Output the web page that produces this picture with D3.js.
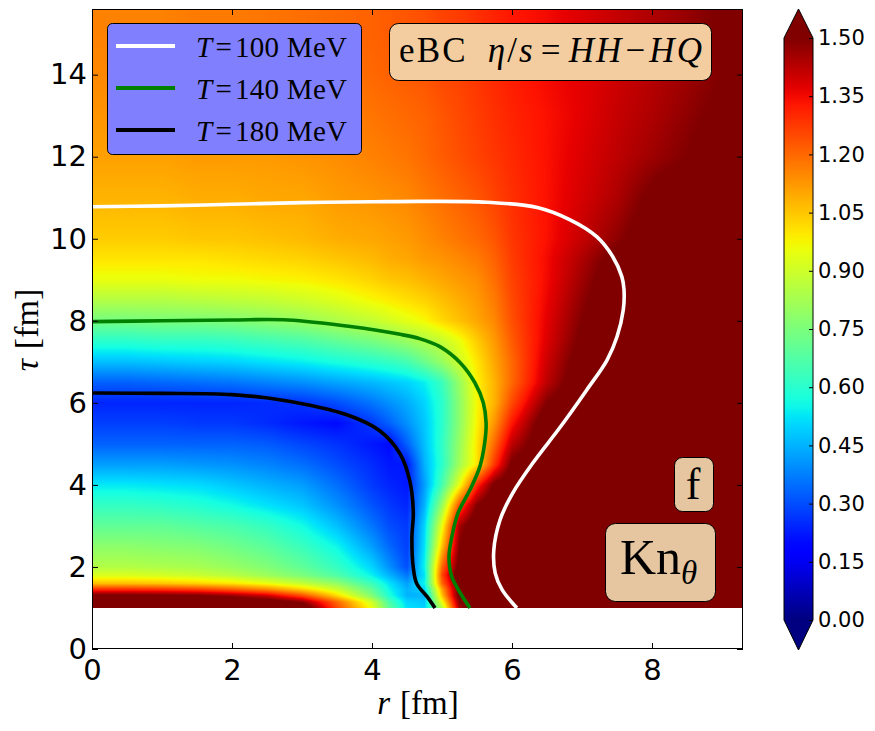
<!DOCTYPE html>
<html><head><meta charset="utf-8">
<script src="https://cdn.jsdelivr.net/npm/d3@7"></script>
<style>body{margin:0;background:#fff} svg{display:block}</style>
</head><body>
<svg id="chart" width="875" height="731" xmlns="http://www.w3.org/2000/svg"></svg>
<script>
// ---------------- DATA ----------------
const rGrid   = [0, 0.5, 1, 1.5, 2, 2.5, 3, 3.5, 4, 4.25, 4.5, 4.75, 5, 5.25, 5.5, 5.75, 6, 6.5, 7, 7.5, 8, 8.5, 9, 9.3];
const tauGrid = [1, 1.15, 1.3, 1.45, 1.6, 1.8, 2, 2.5, 3, 3.5, 4, 4.5, 5, 5.5, 6, 6.5, 7, 7.5, 8, 8.5, 9, 9.5, 10, 11, 12, 13, 14, 15, 15.6];
// Kn_theta values, one row per tau (rows follow tauGrid, columns follow rGrid)
const knRows = [
 [1.6,1.6,1.6,1.6,1.6,1.6,1.6,1.25,0.95,0.7,0.52,0.5,0.85,1.45,1.6,1.6,1.6,1.6,1.6,1.6,1.6,1.6,1.6,1.6],
 [1.6,1.6,1.6,1.6,1.6,1.58,1.48,1.2,0.9,0.66,0.5,0.48,0.95,1.5,1.6,1.6,1.6,1.6,1.6,1.6,1.6,1.6,1.6,1.6],
 [1.53,1.53,1.52,1.51,1.47,1.4,1.25,1.02,0.76,0.58,0.45,0.45,1.05,1.55,1.6,1.6,1.6,1.6,1.6,1.6,1.6,1.6,1.6,1.6],
 [1.3,1.3,1.29,1.27,1.22,1.15,1.04,0.9,0.7,0.55,0.45,0.5,1.1,1.55,1.6,1.6,1.6,1.6,1.6,1.6,1.6,1.6,1.6,1.6],
 [1.06,1.06,1.05,1.03,1.0,0.95,0.88,0.79,0.63,0.52,0.42,0.55,1.2,1.55,1.6,1.6,1.6,1.6,1.6,1.6,1.6,1.6,1.6,1.6],
 [0.92,0.92,0.91,0.89,0.86,0.81,0.75,0.67,0.54,0.45,0.36,0.52,1.25,1.6,1.6,1.6,1.6,1.6,1.6,1.6,1.6,1.6,1.6,1.6],
 [0.85,0.85,0.84,0.83,0.8,0.76,0.7,0.62,0.5,0.4,0.3,0.55,1.2,1.55,1.6,1.6,1.6,1.6,1.6,1.6,1.6,1.6,1.6,1.6],
 [0.78,0.78,0.77,0.76,0.73,0.69,0.63,0.55,0.42,0.34,0.28,0.52,1.05,1.5,1.6,1.6,1.6,1.6,1.6,1.6,1.6,1.6,1.6,1.6],
 [0.7,0.7,0.7,0.68,0.66,0.62,0.56,0.47,0.36,0.3,0.27,0.5,0.95,1.45,1.6,1.6,1.6,1.6,1.6,1.6,1.6,1.6,1.6,1.6],
 [0.62,0.62,0.61,0.59,0.56,0.52,0.48,0.4,0.31,0.27,0.24,0.45,0.8,1.25,1.5,1.6,1.6,1.6,1.6,1.6,1.6,1.6,1.6,1.6],
 [0.53,0.53,0.52,0.51,0.48,0.45,0.42,0.35,0.27,0.24,0.22,0.42,0.65,0.95,1.3,1.52,1.6,1.6,1.6,1.6,1.6,1.6,1.6,1.6],
 [0.42,0.42,0.42,0.41,0.4,0.38,0.35,0.3,0.25,0.22,0.22,0.45,0.6,0.82,1.0,1.28,1.52,1.6,1.6,1.6,1.6,1.6,1.6,1.6],
 [0.33,0.33,0.33,0.33,0.33,0.32,0.29,0.26,0.22,0.2,0.33,0.47,0.61,0.8,1.0,1.2,1.42,1.6,1.6,1.6,1.6,1.6,1.6,1.6],
 [0.28,0.28,0.28,0.27,0.27,0.25,0.22,0.2,0.27,0.33,0.4,0.48,0.6,0.78,0.98,1.13,1.33,1.58,1.6,1.6,1.6,1.6,1.6,1.6],
 [0.24,0.24,0.24,0.24,0.24,0.25,0.26,0.3,0.36,0.4,0.44,0.5,0.6,0.78,0.97,1.08,1.25,1.5,1.6,1.6,1.6,1.6,1.6,1.6],
 [0.33,0.33,0.34,0.35,0.36,0.38,0.4,0.43,0.46,0.48,0.5,0.54,0.63,0.8,0.98,1.08,1.2,1.42,1.58,1.6,1.6,1.6,1.6,1.6],
 [0.47,0.47,0.48,0.49,0.5,0.52,0.54,0.57,0.6,0.62,0.65,0.72,0.8,0.9,1.0,1.1,1.2,1.4,1.55,1.6,1.6,1.6,1.6,1.6],
 [0.6,0.6,0.61,0.61,0.62,0.64,0.66,0.7,0.74,0.77,0.8,0.84,0.88,0.95,1.04,1.12,1.22,1.38,1.52,1.6,1.6,1.6,1.6,1.6],
 [0.74,0.74,0.75,0.75,0.76,0.78,0.8,0.84,0.88,0.91,0.94,0.97,1.02,1.06,1.1,1.15,1.24,1.37,1.5,1.6,1.6,1.6,1.6,1.6],
 [0.85,0.85,0.85,0.86,0.87,0.88,0.9,0.93,0.97,0.99,1.01,1.03,1.06,1.09,1.12,1.17,1.25,1.36,1.48,1.58,1.6,1.6,1.6,1.6],
 [0.95,0.95,0.95,0.96,0.96,0.97,0.98,1.0,1.03,1.05,1.06,1.08,1.1,1.12,1.14,1.19,1.26,1.35,1.46,1.57,1.6,1.6,1.6,1.6],
 [1.0,1.0,1.0,1.0,1.01,1.02,1.03,1.05,1.07,1.09,1.1,1.12,1.13,1.15,1.17,1.21,1.27,1.35,1.44,1.54,1.6,1.6,1.6,1.6],
 [1.04,1.04,1.04,1.05,1.05,1.06,1.07,1.09,1.1,1.11,1.12,1.14,1.16,1.18,1.2,1.23,1.28,1.34,1.41,1.48,1.56,1.6,1.6,1.6],
 [1.08,1.08,1.08,1.09,1.09,1.1,1.1,1.12,1.13,1.14,1.15,1.17,1.19,1.21,1.23,1.26,1.29,1.34,1.39,1.44,1.52,1.58,1.6,1.6],
 [1.11,1.11,1.11,1.12,1.12,1.12,1.13,1.14,1.16,1.17,1.18,1.2,1.22,1.24,1.26,1.28,1.3,1.34,1.38,1.42,1.46,1.5,1.55,1.58],
 [1.13,1.13,1.13,1.14,1.14,1.14,1.15,1.16,1.18,1.19,1.2,1.21,1.23,1.25,1.27,1.29,1.31,1.34,1.37,1.41,1.44,1.48,1.52,1.55],
 [1.15,1.15,1.15,1.16,1.16,1.16,1.17,1.18,1.2,1.21,1.22,1.23,1.25,1.26,1.28,1.3,1.32,1.35,1.37,1.4,1.43,1.46,1.5,1.54],
 [1.16,1.16,1.16,1.17,1.17,1.18,1.19,1.2,1.21,1.22,1.23,1.24,1.26,1.27,1.29,1.31,1.33,1.35,1.38,1.41,1.44,1.47,1.51,1.55],
 [1.16,1.16,1.16,1.17,1.17,1.18,1.19,1.2,1.21,1.22,1.23,1.24,1.26,1.27,1.29,1.31,1.33,1.35,1.38,1.41,1.44,1.47,1.51,1.55]
];
// isotherms [r, tau]
const isoT100 = [[0,10.78],[1,10.8],[2,10.84],[3,10.88],[4,10.9],[4.69,10.91],[5.64,10.89],[6.36,10.76],[6.83,10.46],[7.21,10.05],[7.44,9.56],[7.57,9.07],[7.6,8.76],[7.59,8.27],[7.5,7.61],[7.36,7.05],[7.07,6.32],[6.69,5.41],[6.3,4.54],[6.01,3.8],[5.83,3.15],[5.74,2.41],[5.76,1.85],[5.86,1.44],[6.07,1.0]];
const isoT140 = [[0,7.98],[1,8.0],[2,8.02],[2.8,8.02],[3.69,7.86],[4.4,7.67],[4.69,7.56],[4.97,7.37],[5.26,6.98],[5.47,6.49],[5.59,6.0],[5.63,5.51],[5.61,5.02],[5.54,4.44],[5.4,3.88],[5.23,3.32],[5.14,2.73],[5.1,2.24],[5.14,1.76],[5.26,1.37],[5.4,1.0]];
const isoT180 = [[0,6.24],[1,6.23],[2,6.2],[2.7,6.07],[3.64,5.71],[4.11,5.32],[4.4,4.76],[4.54,4.1],[4.59,3.32],[4.57,2.73],[4.59,1.98],[4.64,1.59],[4.79,1.27],[4.9,1.0]];
const seriesNames = ["100", "140", "180"];
const seriesColors = ["#ffffff", "#008000", "#000000"];
const xTicks = [0, 2, 4, 6, 8];
const yTicks = [0, 2, 4, 6, 8, 10, 12, 14];
const cbTicks = [0, 0.15, 0.30, 0.45, 0.60, 0.75, 0.90, 1.05, 1.20, 1.35, 1.50];

// ---------------- SCALES ----------------
const svg = d3.select("#chart");
const x = d3.scaleLinear().domain([0, 9.3]).range([92, 743]);
const y = d3.scaleLinear().domain([0, 15.6]).range([649, 9]);
const norm = d3.scaleLinear().domain([0, 1.5]).range([0, 1]).clamp(true);
const jetR = d3.scaleLinear().domain([0,0.35,0.66,0.89,1]).range([0,0,1,1,0.5]).clamp(true);
const jetG = d3.scaleLinear().domain([0,0.125,0.375,0.64,0.91,1]).range([0,0,1,1,0,0]).clamp(true);
const jetB = d3.scaleLinear().domain([0,0.11,0.34,0.65,1]).range([0.5,1,1,0,0]).clamp(true);
function jet(v){ const f = norm(v); return [jetR(f)*255, jetG(f)*255, jetB(f)*255]; }
function jetStr(v){ const c = jet(v); return d3.rgb(c[0], c[1], c[2]).formatHex(); }

// bilinear sampling of the grid (display shading)
function sample(r, t){
  let j = Math.max(0, Math.min(rGrid.length - 2, d3.bisectRight(rGrid, r) - 1));
  let i = Math.max(0, Math.min(tauGrid.length - 2, d3.bisectRight(tauGrid, t) - 1));
  const fr = Math.max(0, Math.min(1, (r - rGrid[j]) / (rGrid[j+1] - rGrid[j])));
  const ft = Math.max(0, Math.min(1, (t - tauGrid[i]) / (tauGrid[i+1] - tauGrid[i])));
  const a = knRows[i][j], b = knRows[i][j+1], c = knRows[i+1][j], d = knRows[i+1][j+1];
  return (a*(1-fr) + b*fr)*(1-ft) + (c*(1-fr) + d*fr)*ft;
}

// ---------------- HEATMAP ----------------
const x0 = x(0), x1 = x(9.3), yTop = y(15.6), yBot = y(tauGrid[0]);
const cw = Math.round(x1 - x0), ch = Math.round(yBot - yTop);
const canvas = document.createElement("canvas");
canvas.width = cw; canvas.height = ch;
const ctx = canvas.getContext("2d");
const img = ctx.createImageData(cw, ch);
for (let py = 0; py < ch; py++){
  const t = y.invert(yTop + py + 0.5);
  for (let px = 0; px < cw; px++){
    const r = x.invert(x0 + px + 0.5);
    const c = jet(sample(r, t));
    const k = (py*cw + px)*4;
    img.data[k] = c[0]; img.data[k+1] = c[1]; img.data[k+2] = c[2]; img.data[k+3] = 255;
  }
}
ctx.putImageData(img, 0, 0);
svg.append("image").attr("x", x0).attr("y", yTop).attr("width", cw).attr("height", ch)
   .attr("preserveAspectRatio", "none").attr("href", canvas.toDataURL());

// clip
const defs = svg.append("defs");
defs.append("clipPath").attr("id", "plotclip")
  .append("rect").attr("x", x0).attr("y", yTop).attr("width", x1 - x0).attr("height", y(0) - yTop);

// ---------------- ISOTHERMS ----------------
const line = d3.line().x(d => x(d[0])).y(d => y(d[1])).curve(d3.curveCatmullRom.alpha(0.5));
const iso = [isoT100, isoT140, isoT180];
svg.append("g").attr("clip-path", "url(#plotclip)").selectAll("path").data(iso).join("path")
  .attr("d", line).attr("fill", "none").attr("stroke", (d, i) => seriesColors[i])
  .attr("stroke-width", 3.6).attr("stroke-linejoin", "round");

// ---------------- AXES ----------------
const tickFont = "'DejaVu Sans', sans-serif";
const gx = svg.append("g").attr("transform", `translate(0,${y(0)})`)
  .call(d3.axisBottom(x).tickValues(xTicks).tickSizeInner(-6).tickSizeOuter(0).tickPadding(11).tickFormat(d3.format("d")));
const gxt = svg.append("g").attr("transform", `translate(0,${y(15.6)})`)
  .call(d3.axisTop(x).tickValues(xTicks).tickSizeInner(-6).tickSizeOuter(0).tickFormat(""));
const gy = svg.append("g").attr("transform", `translate(${x(0)},0)`)
  .call(d3.axisLeft(y).tickValues(yTicks).tickSizeInner(-6).tickSizeOuter(0).tickPadding(5).tickFormat(d3.format("d")));
const gyr = svg.append("g").attr("transform", `translate(${x(9.3)},0)`)
  .call(d3.axisRight(y).tickValues(yTicks).tickSizeInner(-6).tickSizeOuter(0).tickFormat(""));
[gx, gxt, gy, gyr].forEach(g => {
  g.select(".domain").remove();
  g.selectAll(".tick line").attr("stroke", "#000").attr("stroke-width", 1);
  g.selectAll("text").attr("font-family", tickFont).attr("font-size", 29).attr("fill", "#000");
});
gx.selectAll("text").attr("dy", "0.7em");
svg.append("rect").attr("x", x0 + 0.5).attr("y", yTop + 0.5).attr("width", x1 - x0 - 1).attr("height", y(0) - yTop - 1)
  .attr("fill", "none").attr("stroke", "#000").attr("stroke-width", 1);

// axis labels
const serif = "'Liberation Serif', 'DejaVu Serif', serif";
const xl = svg.append("text").attr("x", 418).attr("y", 714).attr("text-anchor", "middle")
  .attr("font-family", serif).attr("font-size", 33);
xl.append("tspan").attr("font-style", "italic").text("r");
xl.append("tspan").attr("dx", 10).text("[fm]");
const yl = svg.append("text").attr("transform", "translate(38,330) rotate(-90)").attr("text-anchor", "middle")
  .attr("font-family", serif).attr("font-size", 34);
yl.append("tspan").attr("font-style", "italic").text("τ");
yl.append("tspan").attr("dx", 10).text("[fm]");

// ---------------- LEGEND ----------------
const lg = svg.append("g");
lg.append("rect").attr("x", 107.5).attr("y", 23.5).attr("width", 254).attr("height", 131).attr("rx", 5)
  .attr("fill", "#8080ff").attr("stroke", "#000").attr("stroke-width", 1);
const ly = [46, 88, 130];
seriesNames.forEach((n, i) => {
  lg.append("line").attr("x1", 116).attr("x2", 175).attr("y1", ly[i]).attr("y2", ly[i])
    .attr("stroke", seriesColors[i]).attr("stroke-width", 4);
  const t = lg.append("text").attr("x", 196).attr("y", ly[i] + 11).attr("font-family", serif).attr("font-size", 29)
    .attr("fill", "#000").attr("textLength", 151).attr("lengthAdjust", "spacing");
  t.append("tspan").attr("font-style", "italic").text("T");
  t.append("tspan").attr("dx", 3).text("=");
  t.append("tspan").attr("dx", 3).text(n + " MeV");
});

// ---------------- ANNOTATION BOXES ----------------
svg.append("rect").attr("x", 389.5).attr("y", 23.5).attr("width", 322).attr("height", 57).attr("rx", 9)
  .attr("fill", "#f3cda0").attr("stroke", "#000").attr("stroke-width", 1);
const et = svg.append("text").attr("x", 399).attr("y", 62)
  .attr("font-family", serif).attr("font-size", 35).attr("fill", "#000")
  .attr("textLength", 303).attr("lengthAdjust", "spacing");
et.append("tspan").text("eBC");
et.append("tspan").attr("dx", 20).attr("font-style", "italic").text("η");
et.append("tspan").text("/");
et.append("tspan").attr("font-style", "italic").text("s");
et.append("tspan").attr("dx", 6).text("=");
et.append("tspan").attr("dx", 6).attr("font-style", "italic").text("HH");
et.append("tspan").attr("dx", 2).text("−");
et.append("tspan").attr("dx", 2).attr("font-style", "italic").text("HQ");

svg.append("rect").attr("x", 674.5).attr("y", 457.5).attr("width", 39).attr("height", 54).attr("rx", 8)
  .attr("fill", "#e6c6a0").attr("stroke", "#000").attr("stroke-width", 1);
svg.append("text").attr("x", 693).attr("y", 499).attr("text-anchor", "middle")
  .attr("font-family", serif).attr("font-size", 44).attr("fill", "#000").text("f");

svg.append("rect").attr("x", 605.5).attr("y", 523.5).attr("width", 110).attr("height", 78).attr("rx", 10)
  .attr("fill", "#e6c6a0").attr("stroke", "#000").attr("stroke-width", 1);
const kt = svg.append("text").attr("x", 620).attr("y", 574)
  .attr("font-family", serif).attr("font-size", 50).attr("fill", "#000");
kt.append("tspan").text("Kn");
kt.append("tspan").attr("font-style", "italic").attr("font-size", 33).attr("dy", 10).text("θ");

// ---------------- COLORBAR ----------------
const cbx = 784, cbw = 29;
const cy = d3.scaleLinear().domain([0, 1.5]).range([620, 38]);
const grad = defs.append("linearGradient").attr("id", "jetgrad")
  .attr("x1", 0).attr("y1", 1).attr("x2", 0).attr("y2", 0);
d3.range(0, 1.5001, 0.025).forEach(v => {
  grad.append("stop").attr("offset", v / 1.5).attr("stop-color", jetStr(v));
});
svg.append("rect").attr("x", cbx).attr("y", cy(1.5)).attr("width", cbw).attr("height", cy(0) - cy(1.5)).attr("fill", "url(#jetgrad)");
svg.append("path").attr("d", `M${cbx},${cy(1.5)}L${cbx+cbw/2},9L${cbx+cbw},${cy(1.5)}Z`).attr("fill", jetStr(1.6));
svg.append("path").attr("d", `M${cbx},${cy(0)}L${cbx+cbw/2},650L${cbx+cbw},${cy(0)}Z`).attr("fill", jetStr(-0.1));
svg.append("path").attr("d", `M${cbx},${cy(1.5)}L${cbx+cbw/2},9L${cbx+cbw},${cy(1.5)}L${cbx+cbw},${cy(0)}L${cbx+cbw/2},650L${cbx},${cy(0)}Z`)
  .attr("fill", "none").attr("stroke", "#000").attr("stroke-width", 1);
const cba = svg.append("g").attr("transform", `translate(${cbx+cbw},0)`)
  .call(d3.axisRight(cy).tickValues(cbTicks).tickSizeInner(-4).tickSizeOuter(0).tickPadding(5).tickFormat(d3.format(".2f")));
cba.select(".domain").remove();
cba.selectAll(".tick line").attr("stroke", "#000");
cba.selectAll("text").attr("font-family", tickFont).attr("font-size", 21).attr("fill", "#000");
</script>
</body></html>
